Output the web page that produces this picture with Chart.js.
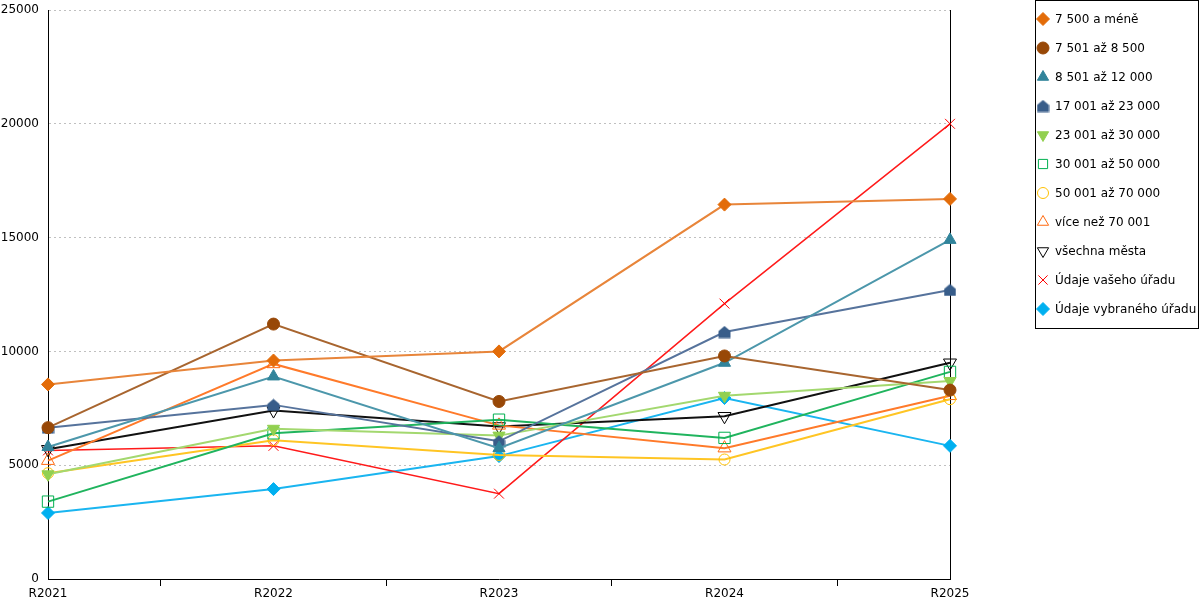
<!DOCTYPE html>
<html>
<head>
<meta charset="utf-8">
<script src="https://cdn.jsdelivr.net/npm/chart.js@4"></script>
<style>
  html, body { margin: 0; padding: 0; background: #fff; }
  #wrap { width: 1200px; height: 600px; }
</style>
</head>
<body>
<div id="wrap"><canvas id="chart" width="1200" height="600"></canvas></div>
<script>
const years = ['R2021', 'R2022', 'R2023', 'R2024', 'R2025'];

const upTo7500 = [8550, 9600, 10000, 16450, 16700];
const from7501 = [6650, 11200, 7800, 9800, 8300];
const from8501 = [5800, 8900, 5750, 9500, 14900];
const from17001 = [6650, 7650, 6050, 10850, 12700];
const from23001 = [4600, 6600, 6300, 8050, 8700];
const from30001 = [3400, 6400, 7000, 6200, 9100];
const from50001 = [4650, 6100, 5450, 5250, 7900];
const over70001 = [5200, 9450, 6750, 5750, 8050];
const allCities = [5700, 7400, 6700, 7150, 9500];
const yourOffice = [5650, 5850, 3750, 12100, 20000];
const chosenOffice = [2900, 3950, 5400, 7950, 5850];

const yTicks = [0, 5000, 10000, 15000, 20000, 25000];

const FONT = 'DejaVu Sans';

// little house marker for 17 001 az 23 000
function houseMarker(color) {
    const c = document.createElement('canvas');
    c.width = 13;
    c.height = 13;
    const g = c.getContext('2d');
    g.fillStyle = color;
    g.beginPath();
    g.moveTo(6.5, 0.5);
    g.lineTo(12.5, 5.5);
    g.lineTo(12.5, 12.5);
    g.lineTo(0.5, 12.5);
    g.lineTo(0.5, 5.5);
    g.closePath();
    g.fill();
    return c;
}

function series(label, data, line, mark, style, opts) {
    return Object.assign({
        label: label,
        data: data,
        borderColor: line,
        backgroundColor: mark,
        pointBackgroundColor: mark,
        pointBorderColor: mark,
        pointStyle: style,
        pointRadius: 5,
        pointHoverRadius: 5,
        pointBorderWidth: 1,
        pointRotation: 0,
        borderWidth: 2,
        tension: 0,
        fill: false
    }, opts || {});
}

const none = 'rgba(0,0,0,0)';

const datasets = [
    series('7 500 a méně', upTo7500, '#e8853a', '#e36c09', 'rectRot', { pointRadius: 6.5 }),
    series('7 501 až 8 500', from7501, '#a8652f', '#984807', 'circle', { pointRadius: 6 }),
    series('8 501 až 12 000', from8501, '#4c97ab', '#31849b', 'triangle', { pointRadius: 7 }),
    series('17 001 až 23 000', from17001, '#56739c', '#385d8a', houseMarker('#385d8a')),
    series('23 001 až 30 000', from23001, '#a3d86f', '#92d050', 'triangle', { pointRotation: 180, pointRadius: 7 }),
    series('30 001 až 50 000', from30001, '#20b45e', none, 'rect', { pointBorderColor: '#00b050', pointRadius: 8 }),
    series('50 001 až 70 000', from50001, '#ffc524', none, 'circle', { pointBorderColor: '#ffc000', pointRadius: 5.5 }),
    series('více než 70 001', over70001, '#ff7a2a', none, 'triangle', { pointBorderColor: '#ff6a10', pointRadius: 7.5 }),
    series('všechna města', allCities, '#111111', none, 'triangle', { pointBorderColor: '#000', pointRotation: 180, pointRadius: 7.5 }),
    series('Údaje vašeho úřadu', yourOffice, '#ff1a1a', '#ff0000', 'crossRot', { borderWidth: 1.5, pointRadius: 7 }),
    series('Údaje vybraného úřadu', chosenOffice, '#1ab5f0', '#00b0f0', 'rectRot', { pointRadius: 6.5 })
];

// legend box drawn by hand so it can sit away from the plot with a frame
const boxLegend = {
    id: 'boxLegend',
    afterDraw(chart) {
        const ctx = chart.ctx;
        const left = 1035.5, top = 0.5, w = 163, h = 328;
        ctx.save();
        ctx.strokeStyle = '#000';
        ctx.lineWidth = 1;
        ctx.strokeRect(left, top, w, h);
        ctx.font = '12px "' + FONT + '"';
        ctx.textBaseline = 'middle';
        ctx.textAlign = 'left';
        chart.data.datasets.forEach((ds, i) => {
            const y = 19 + i * 29;
            const x = 1043;
            ctx.fillStyle = ds.pointBackgroundColor;
            ctx.strokeStyle = ds.pointBorderColor;
            ctx.lineWidth = 1;
            Chart.helpers.drawPoint(ctx, {
                pointStyle: ds.pointStyle,
                rotation: ds.pointRotation,
                radius: Math.min(ds.pointRadius, 6.5),
                borderWidth: 1
            }, x, y);
            ctx.fillStyle = '#000';
            ctx.fillText(ds.label, 1055, y + 1);
        });
        ctx.restore();
    }
};

const ctx = document.getElementById('chart').getContext('2d');
new Chart(ctx, {
    type: 'line',
    data: { labels: years, datasets: datasets },
    plugins: [boxLegend],
    options: {
        responsive: false,
        animation: false,
        layout: { padding: { top: 10, right: 250, left: 0, bottom: 0 } },
        plugins: {
            legend: { display: false },
            tooltip: { enabled: false }
        },
        scales: {
            x: {
                type: 'category',
                offset: false,
                grid: {
                    offset: true,
                    drawOnChartArea: false,
                    drawTicks: true,
                    tickLength: 7,
                    color: '#000'
                },
                border: { color: '#000', width: 1 },
                ticks: {
                    color: '#000',
                    font: { family: FONT, size: 12 },
                    padding: 1,
                    maxRotation: 0,
                    autoSkip: false
                },
                afterFit(scale) { scale.height = 21; }
            },
            y: {
                min: 0,
                max: 25000,
                afterBuildTicks(scale) { scale.ticks = yTicks.map(v => ({ value: v })); },
                grid: {
                    color: (c) => c.tick && c.tick.value === 0 ? none : '#c0c0c0',
                    drawTicks: false
                },
                border: { color: '#000', width: 1, dash: [2, 3] },
                ticks: {
                    color: '#000',
                    font: { family: FONT, size: 12, lineHeight: 0.1 },
                    padding: 9,
                    callback: (v) => String(v)
                },
                afterFit(scale) { scale.width = 48; }
            },
            y2: {
                position: 'right',
                min: 0,
                max: 25000,
                grid: { drawOnChartArea: false, drawTicks: false },
                border: { color: '#000', width: 1 },
                ticks: { display: false },
                afterFit(scale) { scale.width = 0; }
            }
        }
    }
});
</script>
</body>
</html>
